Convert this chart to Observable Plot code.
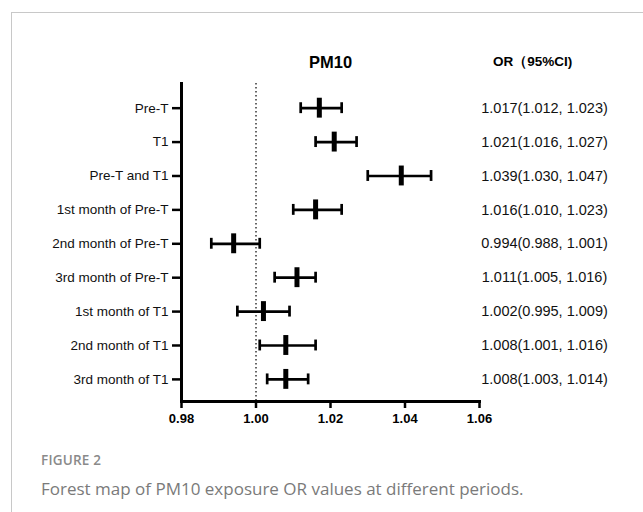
<!DOCTYPE html>
<html>
<head>
<meta charset="utf-8">
<script src="https://cdn.jsdelivr.net/npm/d3@7"></script>
<script src="https://cdn.jsdelivr.net/npm/@observablehq/plot@0.6"></script>
<style>
  html, body { margin: 0; padding: 0; background: #fff; }
  #page { position: relative; width: 643px; height: 512px; overflow: hidden; }
  #box { position: absolute; left: 11px; top: 12px; width: 700px; height: 600px;
         border-left: 1px solid #c8c8c8; border-top: 1px solid #c8c8c8; }
  #chart { position: absolute; left: 0; top: 0; }
  .figlabel { position: absolute; left: 41px; top: 451px; font-family: "Open Sans", sans-serif;
              font-weight: 600; font-size: 13.5px; color: #8a8a8a; letter-spacing: 0.2px; }
  .figcap { position: absolute; left: 41px; top: 477px; font-family: "Open Sans", sans-serif;
            font-size: 17px; color: #7a7a7a; }
</style>
</head>
<body>
<div id="page">
  <div id="box"></div>
  <div id="chart"></div>
  <div class="figlabel">FIGURE 2</div>
  <div class="figcap">Forest map of PM10 exposure OR values at different periods.</div>
</div>
<script>
const periods = ["Pre-T", "T1", "Pre-T and T1", "1st month of Pre-T", "2nd month of Pre-T",
  "3rd month of Pre-T", "1st month of T1", "2nd month of T1", "3rd month of T1"];
const orValues = [1.017, 1.021, 1.039, 1.016, 0.994, 1.011, 1.002, 1.008, 1.008];
const ciLower  = [1.012, 1.016, 1.030, 1.010, 0.988, 1.005, 0.995, 1.001, 1.003];
const ciUpper  = [1.023, 1.027, 1.047, 1.023, 1.001, 1.016, 1.009, 1.016, 1.014];
const xTicks = [0.98, 1.00, 1.02, 1.04, 1.06];
const nullValue = [1.00];
const chartTitle = "PM10";
const columnTitle = "OR\uFF0895%CI)";

const data = periods.map((p, i) => ({
  period: p, or: orValues[i], lo: ciLower[i], hi: ciUpper[i],
  label: `${orValues[i].toFixed(3)}(${ciLower[i].toFixed(3)}, ${ciUpper[i].toFixed(3)})`
}));

const font = "'Liberation Sans', Arial, sans-serif";

const chart = Plot.plot({
  width: 643,
  height: 440,
  marginLeft: 181,
  marginRight: 164,
  marginTop: 83,
  marginBottom: 39,
  style: { fontFamily: font, color: "#000", background: "transparent", overflow: "visible" },
  x: { domain: [0.98, 1.06] },
  y: { type: "band", domain: periods, paddingInner: 0, paddingOuter: 0.19, align: 0.6, round: false },
  marks: [
    Plot.ruleX(nullValue, { stroke: "#333", strokeWidth: 1.5, strokeDasharray: "1.5,2.5" }),
    Plot.ruleY(data, { y: "period", x1: "lo", x2: "hi", stroke: "#000", strokeWidth: 2.7 }),
    Plot.tickX(data, { x: "lo", y: "period", stroke: "#000", strokeWidth: 2.7, insetTop: 11.5, insetBottom: 11.5 }),
    Plot.tickX(data, { x: "hi", y: "period", stroke: "#000", strokeWidth: 2.7, insetTop: 11.5, insetBottom: 11.5 }),
    Plot.tickX(data, { x: "or", y: "period", stroke: "#000", strokeWidth: 5, insetTop: 7, insetBottom: 7 }),
    Plot.frame({ anchor: "left", stroke: "#000", strokeWidth: 3 }),
    Plot.frame({ anchor: "bottom", stroke: "#000", strokeWidth: 3 }),
    Plot.axisY({ tickSize: 9, tickPadding: 4, fontSize: 13.5, strokeWidth: 2.5, label: null, fill: "#111" }),
    Plot.axisX({ ticks: xTicks, tickFormat: d3.format(".2f"), tickSize: 7, tickPadding: 5,
                 fontSize: 13, fontWeight: "bold", strokeWidth: 2.5, label: null }),
    Plot.text(data, { y: "period", text: "label", frameAnchor: "right", dx: 65,
                      textAnchor: "middle", fontSize: 14.5, fill: "#111" }),
    Plot.text([chartTitle], { frameAnchor: "top", dy: -27, fontSize: 16.5, fontWeight: "bold" }),
    Plot.text([columnTitle], { frameAnchor: "top-right", dx: 53, dy: -27, textAnchor: "middle",
                               fontSize: 13.5, fontWeight: "bold" })
  ]
});
document.getElementById("chart").appendChild(chart);
</script>
</body>
</html>
